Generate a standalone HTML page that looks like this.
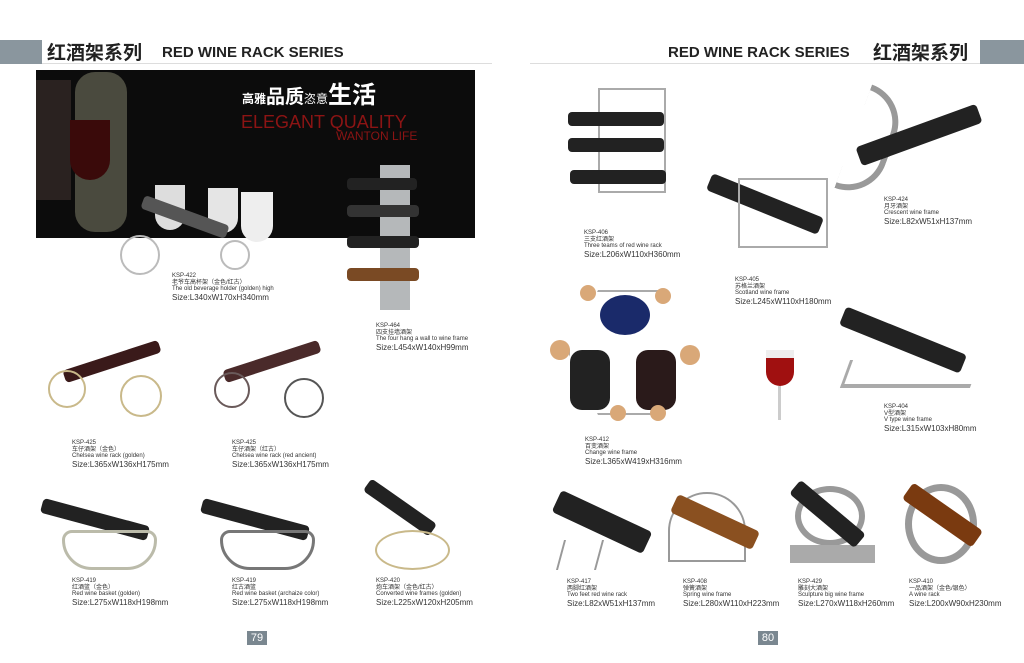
<!DOCTYPE html>
<html><head><meta charset="utf-8"><style>
*{margin:0;padding:0;box-sizing:border-box}
body{width:1024px;height:663px;background:#fff;position:relative;overflow:hidden;font-family:"Liberation Sans","Noto Sans CJK SC",sans-serif;color:#222}
.a{position:absolute}
.cap{position:absolute;font-size:6px;line-height:6.6px;color:#333;white-space:nowrap}
.cap b{font-weight:normal;font-size:8px;line-height:9px;display:block}
.bot{position:absolute;background:#222;border-radius:4px}
.wire{position:absolute;border:2px solid #bbb;border-radius:50%}
.pg{position:absolute;top:631px;width:20px;height:14px;background:#7a8790;color:#fff;font-size:11px;text-align:center;line-height:14px}
</style></head><body>
<div class="a" style="left:0;top:40px;width:42px;height:24px;background:#8a969e"></div>
<div class="a" style="left:42px;top:63px;width:450px;height:1px;background:#ddd"></div>
<div class="a" style="left:47px;top:40px;font-size:19px;font-weight:bold;color:#222;font-family:'Noto Sans CJK SC',sans-serif;line-height:24px">红酒架系列</div>
<div class="a" style="left:162px;top:44px;font-size:15px;font-weight:bold;color:#222;line-height:18px">RED WINE RACK SERIES</div>
<div class="a" style="left:980px;top:40px;width:44px;height:24px;background:#8a969e"></div>
<div class="a" style="left:530px;top:63px;width:450px;height:1px;background:#ddd"></div>
<div class="a" style="left:668px;top:44px;font-size:15px;font-weight:bold;color:#222;line-height:18px">RED WINE RACK SERIES</div>
<div class="a" style="left:873px;top:40px;font-size:19px;font-weight:bold;color:#222;font-family:'Noto Sans CJK SC',sans-serif;line-height:24px">红酒架系列</div>

<div class="a" style="left:36px;top:70px;width:439px;height:168px;background:#0c0c0c"></div>
<div class="a" style="left:75px;top:72px;width:52px;height:160px;background:#4a4a3e;border-radius:20px"></div>
<div class="a" style="left:36px;top:80px;width:35px;height:120px;background:#2a2220"></div>
<div class="a" style="left:70px;top:120px;width:40px;height:60px;background:#3a0a0a;border-radius:0 0 20px 20px"></div>
<div class="a" style="left:242px;top:80px;font-size:19px;color:#fff;font-weight:bold;font-family:'Noto Sans CJK SC',sans-serif;line-height:26px"><span style="font-size:12px">高雅</span>品质<span style="font-size:12px;font-weight:normal">恣意</span><span style="font-size:24px">生活</span></div>
<div class="a" style="left:241px;top:113px;font-size:18px;color:#8c1414;line-height:18px">ELEGANT QUALITY</div>
<div class="a" style="left:336px;top:130px;font-size:12px;color:#8c1414;line-height:13px">WANTON LIFE</div>
<div class="a" style="left:155px;top:185px;width:30px;height:45px;background:#ddd;border-radius:0 0 15px 15px"></div>
<div class="a" style="left:208px;top:188px;width:30px;height:45px;background:#e5e5e5;border-radius:0 0 15px 15px"></div>
<div class="a" style="left:241px;top:192px;width:32px;height:50px;background:#eee;border-radius:0 0 16px 16px"></div>
<div class="bot" style="left:140px;top:210px;width:90px;height:14px;background:#555;transform:rotate(20deg)"></div>
<div class="wire" style="left:120px;top:235px;width:40px;height:40px"></div>
<div class="wire" style="left:220px;top:240px;width:30px;height:30px"></div>
<div class="a" style="left:380px;top:165px;width:30px;height:145px;background:#b5b8ba"></div>
<div class="bot" style="left:347px;top:178px;width:70px;height:12px"></div>
<div class="bot" style="left:347px;top:205px;width:72px;height:12px;background:#333"></div>
<div class="bot" style="left:347px;top:236px;width:72px;height:12px"></div>
<div class="bot" style="left:347px;top:268px;width:72px;height:13px;background:#7a4a24"></div>

<div class="cap" style="left:172px;top:273px">KSP-422<br>老爷车高杯架（金色/红古）<br>The old beverage holder (golden) high<b>Size:L340xW170xH340mm</b></div>
<div class="cap" style="left:376px;top:323px">KSP-464<br>四支挂墙酒架<br>The four hang a wall to wine frame<b>Size:L454xW140xH99mm</b></div>

<div class="bot" style="left:62px;top:355px;width:100px;height:13px;background:#3a1a1a;transform:rotate(-18deg)"></div>
<div class="wire" style="left:48px;top:370px;width:38px;height:38px;border-color:#c9b98a"></div>
<div class="wire" style="left:120px;top:375px;width:42px;height:42px;border-color:#c9b98a"></div>
<div class="bot" style="left:222px;top:355px;width:100px;height:13px;background:#4a2a2a;transform:rotate(-18deg)"></div>
<div class="wire" style="left:214px;top:372px;width:36px;height:36px;border-color:#6a5a5a"></div>
<div class="wire" style="left:284px;top:378px;width:40px;height:40px;border-color:#555"></div>
<div class="cap" style="left:72px;top:440px">KSP-425<br>车仔酒架（金色）<br>Chelsea wine rack (golden)<b>Size:L365xW136xH175mm</b></div>
<div class="cap" style="left:232px;top:440px">KSP-425<br>车仔酒架（红古）<br>Chelsea wine rack (red ancient)<b>Size:L365xW136xH175mm</b></div>

<div class="bot" style="left:40px;top:512px;width:110px;height:15px;transform:rotate(15deg)"></div>
<div class="a" style="left:62px;top:530px;width:95px;height:40px;border:3px solid #bba;border-radius:10px 10px 30px 30px"></div>
<div class="bot" style="left:200px;top:512px;width:110px;height:15px;transform:rotate(15deg)"></div>
<div class="a" style="left:220px;top:530px;width:95px;height:40px;border:3px solid #777;border-radius:10px 10px 30px 30px"></div>
<div class="bot" style="left:360px;top:500px;width:80px;height:15px;transform:rotate(35deg)"></div>
<div class="wire" style="left:375px;top:530px;width:75px;height:40px;border-color:#c9b98a"></div>
<div class="cap" style="left:72px;top:578px">KSP-419<br>红酒篮（金色）<br>Red wine basket (golden)<b>Size:L275xW118xH198mm</b></div>
<div class="cap" style="left:232px;top:578px">KSP-419<br>红古酒篮<br>Red wine basket (archaize color)<b>Size:L275xW118xH198mm</b></div>
<div class="cap" style="left:376px;top:578px">KSP-420<br>炮车酒架（金色/红古）<br>Converted wine frames (golden)<b>Size:L225xW120xH205mm</b></div>

<div class="pg" style="left:247px">79</div>

<div class="a" style="left:598px;top:88px;width:68px;height:105px;border:2px solid #aaa"></div>
<div class="bot" style="left:568px;top:112px;width:96px;height:14px"></div>
<div class="bot" style="left:568px;top:138px;width:96px;height:14px"></div>
<div class="bot" style="left:570px;top:170px;width:96px;height:14px"></div>
<div class="cap" style="left:584px;top:230px">KSP-406<br>三支红酒架<br>Three teams of red wine rack<b>Size:L206xW110xH360mm</b></div>
<div class="bot" style="left:705px;top:195px;width:120px;height:18px;transform:rotate(22deg)"></div>
<div class="a" style="left:738px;top:178px;width:90px;height:70px;border:2px solid #aaa"></div>
<div class="cap" style="left:735px;top:277px">KSP-405<br>苏格兰酒架<br>Scotland wine frame<b>Size:L245xW110xH180mm</b></div>
<div class="a" style="left:852px;top:88px;width:40px;height:110px;border:6px solid #999;border-left:none;border-radius:0 40px 40px 0;transform:rotate(20deg)"></div>
<div class="bot" style="left:855px;top:125px;width:128px;height:20px;transform:rotate(-20deg)"></div>
<div class="cap" style="left:884px;top:197px">KSP-424<br>月牙酒架<br>Crescent wine frame<b>Size:L82xW51xH137mm</b></div>
<div class="a" style="left:568px;top:290px;width:120px;height:125px;border:2px solid #aaa;clip-path:polygon(25% 0,75% 0,100% 50%,75% 100%,25% 100%,0 50%)"></div>
<div class="a" style="left:600px;top:295px;width:50px;height:40px;background:#1a2a6a;border-radius:50%"></div>
<div class="a" style="left:570px;top:350px;width:40px;height:60px;background:#222;border-radius:12px"></div>
<div class="a" style="left:636px;top:350px;width:40px;height:60px;background:#2a1a1a;border-radius:12px"></div>
<div class="a" style="left:550px;top:340px;width:20px;height:20px;background:#d9a878;border-radius:50%"></div>
<div class="a" style="left:680px;top:345px;width:20px;height:20px;background:#d9a878;border-radius:50%"></div>
<div class="a" style="left:580px;top:285px;width:16px;height:16px;background:#d9a878;border-radius:50%"></div>
<div class="a" style="left:655px;top:288px;width:16px;height:16px;background:#d9a878;border-radius:50%"></div>
<div class="a" style="left:610px;top:405px;width:16px;height:16px;background:#d9a878;border-radius:50%"></div>
<div class="a" style="left:650px;top:405px;width:16px;height:16px;background:#d9a878;border-radius:50%"></div>
<div class="cap" style="left:585px;top:437px">KSP-412<br>百变酒架<br>Change wine frame<b>Size:L365xW419xH316mm</b></div>
<div class="a" style="left:766px;top:350px;width:28px;height:36px;background:#a01010;border-radius:0 0 14px 14px;border-top:8px solid #eee"></div>
<div class="a" style="left:778px;top:386px;width:3px;height:34px;background:#ccc"></div>
<div class="bot" style="left:838px;top:330px;width:130px;height:20px;transform:rotate(22deg)"></div>
<div class="a" style="left:845px;top:360px;width:130px;height:28px;border-bottom:4px solid #aaa;border-left:3px solid #aaa;transform:skewX(-20deg)"></div>
<div class="cap" style="left:884px;top:404px">KSP-404<br>V型酒架<br>V type wine frame<b>Size:L315xW103xH80mm</b></div>
<div class="bot" style="left:552px;top:510px;width:100px;height:24px;transform:rotate(25deg)"></div>
<div class="a" style="left:560px;top:540px;width:40px;height:30px;border-left:2px solid #999;border-right:2px solid #999;transform:skewX(-15deg)"></div>
<div class="a" style="left:668px;top:492px;width:78px;height:70px;border:2px solid #999;border-radius:40px 40px 0 0"></div>
<div class="bot" style="left:670px;top:512px;width:90px;height:20px;background:#8a5020;transform:rotate(25deg)"></div>
<div class="a" style="left:795px;top:486px;width:70px;height:60px;border:6px solid #999;border-radius:50%"></div>
<div class="a" style="left:790px;top:545px;width:85px;height:18px;background:#aaa"></div>
<div class="bot" style="left:785px;top:505px;width:85px;height:18px;transform:rotate(40deg)"></div>
<div class="a" style="left:905px;top:484px;width:72px;height:80px;border:7px solid #999;border-radius:50%"></div>
<div class="bot" style="left:900px;top:505px;width:85px;height:20px;background:#7a3a10;transform:rotate(35deg)"></div>
<div class="cap" style="left:567px;top:579px">KSP-417<br>两脚红酒架<br>Two feet red wine rack<b>Size:L82xW51xH137mm</b></div>
<div class="cap" style="left:683px;top:579px">KSP-408<br>弹簧酒架<br>Spring wine frame<b>Size:L280xW110xH223mm</b></div>
<div class="cap" style="left:798px;top:579px">KSP-429<br>雕刻大酒架<br>Sculpture big wine frame<b>Size:L270xW118xH260mm</b></div>
<div class="cap" style="left:909px;top:579px">KSP-410<br>一品酒架（金色/银色）<br>A wine rack<b>Size:L200xW90xH230mm</b></div>

<div class="pg" style="left:758px">80</div>
</body></html>
